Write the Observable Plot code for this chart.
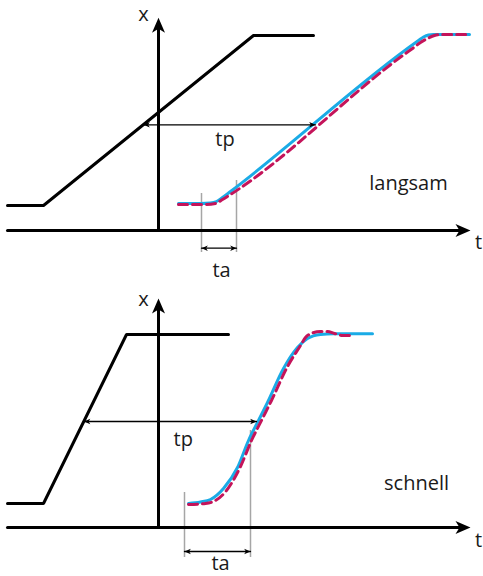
<!DOCTYPE html>
<html>
<head>
<meta charset="utf-8">
<script src="https://cdn.jsdelivr.net/npm/d3@7"></script>
<script src="https://cdn.jsdelivr.net/npm/@observablehq/plot@0.6"></script>
<style>
  html, body { margin: 0; padding: 0; background: #fff; }
  #chart svg { display: block; }
</style>
</head>
<body>
<div id="chart"></div>
<script>
// ---------- data (t = time, x = position; origin at the axis crossing) ----------
// Panel 1: "langsam" (slow)
const slowInput = [[-15.1, 2.5], [-11.5, 2.5], [9.5, 19.5], [15.5, 19.5]];
const slowSolid = [[2.0, 2.7], [4.2, 2.7], [5.2, 2.75], [5.8, 2.9], [6.4, 3.3], [7.2, 3.9],
                   [26.0, 19.0], [26.5, 19.35], [27.0, 19.55], [27.5, 19.6], [31.1, 19.6]];
const slowDashed = [[2.0, 2.6], [4.7, 2.6], [5.7, 2.7], [6.4, 3.1], [7.2, 3.6], [24.7, 17.7],
                    [25.4, 18.2], [26.2, 18.8], [27.0, 19.25], [27.6, 19.5], [28.2, 19.6], [31.1, 19.6]];
const slowTp = {x: 10.57, t1: -1.5, t2: 15.7};
const slowTa = {x: -1.77, t1: 4.3, t2: 7.8, top1: 3.7, top2: 5.0, bottom: -2.2};
const slowLabels = [
  {t: 6.65, x: 8.5, text: "tp"},
  {t: 6.3, x: -4.6, text: "ta"},
  {t: 25.0, x: 4.1, text: "langsam"},
  {t: -1.5, x: 21.0, text: "x"},
  {t: 32.0, x: -1.8, text: "t"}
];

// Panel 2: "schnell" (fast)
const fastInput = [[-15.1, 2.4], [-11.5, 2.4], [-3.2, 19.3], [7.0, 19.3]];
const fastSolid = [[3.0, 2.4], [4.2, 2.55], [5.2, 2.8], [6.5, 3.9], [7.9, 6.0], [9.0, 8.7],
                   [10.0, 10.7], [10.9, 12.5], [12.5, 15.9], [13.9, 18.0], [14.9, 18.9],
                   [16.2, 19.3], [17.5, 19.37], [21.4, 19.37]];
const fastDashed = [[3.0, 2.3], [4.7, 2.4], [5.7, 2.7], [6.8, 3.7], [8.2, 6.1], [9.3, 8.7],
                    [10.4, 10.9], [11.3, 12.7], [12.9, 16.1], [14.2, 18.2], [14.7, 19.0],
                    [15.4, 19.45], [16.2, 19.6], [16.9, 19.6], [17.6, 19.4], [18.4, 19.2], [19.1, 19.2]];
const fastTp = {x: 10.6, t1: -7.45, t2: 9.8};
const fastTa = {x: -2.4, t1: 2.6, t2: 9.2, top1: 3.5, top2: 9.7, bottom: -3.0};
const fastLabels = [
  {t: 2.47, x: 8.13, text: "tp"},
  {t: 6.2, x: -4.2, text: "ta"},
  {t: 25.8, x: 3.8, text: "schnell"},
  {t: -1.5, x: 22.2, text: "x"},
  {t: 32.0, x: -1.97, text: "t"}
];

// axis extents
const tDomain = [-15.8, 32.5];
const axisT = {start: -15.1, tip: 31.2};
const slowAxisX = {tip: 21.27};
const fastAxisX = {tip: 22.9};

// ---------- styling ----------
const BLUE = "#1aabe6";
const MAGENTA = "#c4145a";
const FONT = "'Open Sans', 'Noto Sans', sans-serif";

// arrowhead symbol: tip at origin, pointing up (negative y)
const arrowHead = {
  draw(ctx, size) {
    const k = Math.sqrt(size / Math.PI) / 10;
    ctx.moveTo(0, 0);
    ctx.lineTo(6.5 * k, 15 * k);
    ctx.lineTo(0, 11 * k);
    ctx.lineTo(-6.5 * k, 15 * k);
    ctx.closePath();
  }
};

function panel({input, solid, dashed, tp, ta, labels, yDomain, yTip}) {
  const tAxisLine = [[axisT.start, 0], [axisT.tip - 1.0, 0]];
  const xAxisLine = [[0, 0], [0, yTip - 1.0]];
  const axisHeads = [
    {t: axisT.tip, x: 0, rot: 90},
    {t: 0, x: yTip, rot: 0}
  ];
  const dimLines = [
    [[tp.t1, tp.x], [tp.t2, tp.x]],
    [[ta.t1, ta.x], [ta.t2, ta.x]]
  ];
  const dimHeads = [
    {t: tp.t1, x: tp.x, rot: -90}, {t: tp.t2, x: tp.x, rot: 90},
    {t: ta.t1, x: ta.x, rot: -90}, {t: ta.t2, x: ta.x, rot: 90}
  ];
  const guides = [
    {t: ta.t1, y1: ta.bottom, y2: ta.top1},
    {t: ta.t2, y1: ta.bottom, y2: ta.top2}
  ];
  return Plot.plot({
    width: 483,
    height: 288,
    margin: 0,
    x: {domain: tDomain, axis: null},
    y: {domain: yDomain, axis: null},
    style: {background: "#fff", overflow: "visible"},
    marks: [
      Plot.ruleX(guides, {x: "t", y1: "y1", y2: "y2", stroke: "#a6a6a6", strokeWidth: 1.5}),
      Plot.line(tAxisLine, {x: d => d[0], y: d => d[1], stroke: "#000", strokeWidth: 3}),
      Plot.line(xAxisLine, {x: d => d[0], y: d => d[1], stroke: "#000", strokeWidth: 3}),
      Plot.dot(axisHeads, {x: "t", y: "x", rotate: "rot", symbol: arrowHead, r: 10, fill: "#000", stroke: null}),
      Plot.line(input, {x: d => d[0], y: d => d[1], stroke: "#000", strokeWidth: 3, strokeLinejoin: "miter"}),
      Plot.line(solid, {x: d => d[0], y: d => d[1], curve: "monotone-x", stroke: BLUE, strokeWidth: 3}),
      Plot.line(dashed, {x: d => d[0], y: d => d[1], curve: "monotone-x", stroke: MAGENTA, strokeWidth: 3, strokeDasharray: "9,5"}),
      ...dimLines.map(seg => Plot.line(seg, {x: d => d[0], y: d => d[1], stroke: "#000", strokeWidth: 1.3})),
      Plot.dot(dimHeads, {x: "t", y: "x", rotate: "rot", symbol: arrowHead, r: 4.2, fill: "#000", stroke: null}),
      Plot.text(labels, {x: "t", y: "x", text: "text", lineAnchor: "bottom", textAnchor: "middle",
        fontFamily: FONT, fontSize: 20, fill: "#1a1a1a"})
    ]
  });
}

const chart = document.getElementById("chart");
chart.appendChild(panel({input: slowInput, solid: slowSolid, dashed: slowDashed, tp: slowTp, ta: slowTa,
  labels: slowLabels, yDomain: [-5.8, 23.0], yTip: slowAxisX.tip}));
chart.appendChild(panel({input: fastInput, solid: fastSolid, dashed: fastDashed, tp: fastTp, ta: fastTa,
  labels: fastLabels, yDomain: [-4.9, 23.9], yTip: fastAxisX.tip}));
</script>
</body>
</html>
